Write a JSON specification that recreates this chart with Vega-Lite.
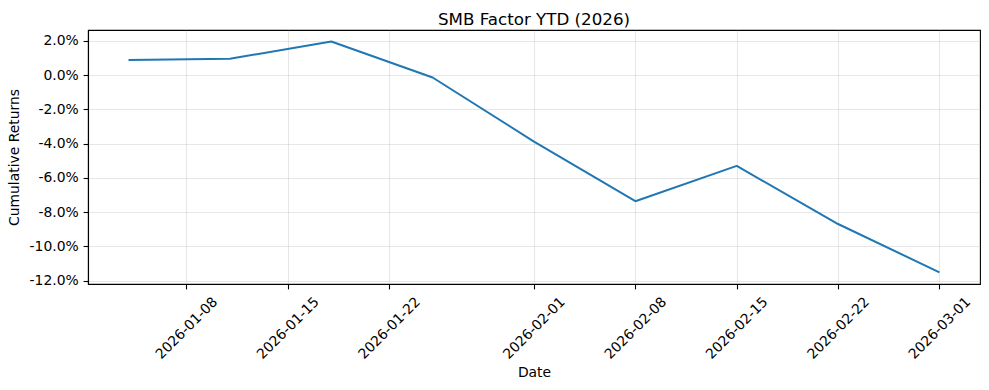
{
  "$schema": "https://vega.github.io/schema/vega-lite/v6.json",
  "autosize": "none",
  "width": 892,
  "height": 254,
  "padding": {"left": 88, "top": 30, "right": 9, "bottom": 106},
  "background": "white",
  "title": {
    "text": "SMB Factor YTD (2026)",
    "font": "DejaVu Sans",
    "fontSize": 16.7,
    "fontWeight": "normal",
    "color": "black",
    "anchor": "middle",
    "baseline": "bottom",
    "offset": 4,
    "dy": 20
  },
  "config": {
    "view": {"stroke": "black", "strokeWidth": 1.1},
    "axis": {
      "labelFont": "DejaVu Sans",
      "titleFont": "DejaVu Sans",
      "labelFontSize": 13.9,
      "titleFontSize": 13.9,
      "titleFontWeight": "normal",
      "labelColor": "black",
      "titleColor": "black",
      "domainColor": "black",
      "domainWidth": 1.1,
      "tickColor": "black",
      "tickWidth": 1.1,
      "tickSize": 4.9,
      "gridColor": "#b0b0b0",
      "gridOpacity": 0.3,
      "gridWidth": 1.1
    }
  },
  "data": {
    "values": [
      {"date": "2026-01-04", "ret": 0.0088},
      {"date": "2026-01-11", "ret": 0.0095},
      {"date": "2026-01-18", "ret": 0.0196},
      {"date": "2026-01-25", "ret": -0.0014},
      {"date": "2026-02-01", "ret": -0.0388},
      {"date": "2026-02-08", "ret": -0.0736},
      {"date": "2026-02-15", "ret": -0.0530},
      {"date": "2026-02-22", "ret": -0.0869},
      {"date": "2026-03-01", "ret": -0.1151}
    ]
  },
  "mark": {"type": "line", "color": "#1f77b4", "strokeWidth": 2, "strokeJoin": "round"},
  "encoding": {
    "x": {
      "field": "date",
      "type": "temporal",
      "title": "Date",
      "scale": {
        "type": "utc",
        "domain": [
          {"year": 2026, "month": 1, "date": 1, "hours": 4, "minutes": 48, "utc": true},
          {"year": 2026, "month": 3, "date": 3, "hours": 19, "minutes": 12, "utc": true}
        ]
      },
      "axis": {
        "values": [
          {"year": 2026, "month": 1, "date": 8, "utc": true},
          {"year": 2026, "month": 1, "date": 15, "utc": true},
          {"year": 2026, "month": 1, "date": 22, "utc": true},
          {"year": 2026, "month": 2, "date": 1, "utc": true},
          {"year": 2026, "month": 2, "date": 8, "utc": true},
          {"year": 2026, "month": 2, "date": 15, "utc": true},
          {"year": 2026, "month": 2, "date": 22, "utc": true},
          {"year": 2026, "month": 3, "date": 1, "utc": true}
        ],
        "format": "%Y-%m-%d",
        "labelAngle": -45,
        "labelAlign": "center",
        "labelBaseline": "middle",
        "labelPadding": 39,
        "labelFlush": false,
        "labelOverlap": false,
        "titlePadding": 4,
        "grid": true
      }
    },
    "y": {
      "field": "ret",
      "type": "quantitative",
      "title": "Cumulative Returns",
      "scale": {"domain": [-0.1219, 0.0263], "nice": false, "zero": false},
      "axis": {
        "values": [-0.12, -0.10, -0.08, -0.06, -0.04, -0.02, 0, 0.02],
        "labelExpr": "replace(format(datum.value, '.1%'), '\u2212', '-')",
        "labelPadding": 4.9,
        "titlePadding": 8,
        "grid": true
      }
    }
  }
}
